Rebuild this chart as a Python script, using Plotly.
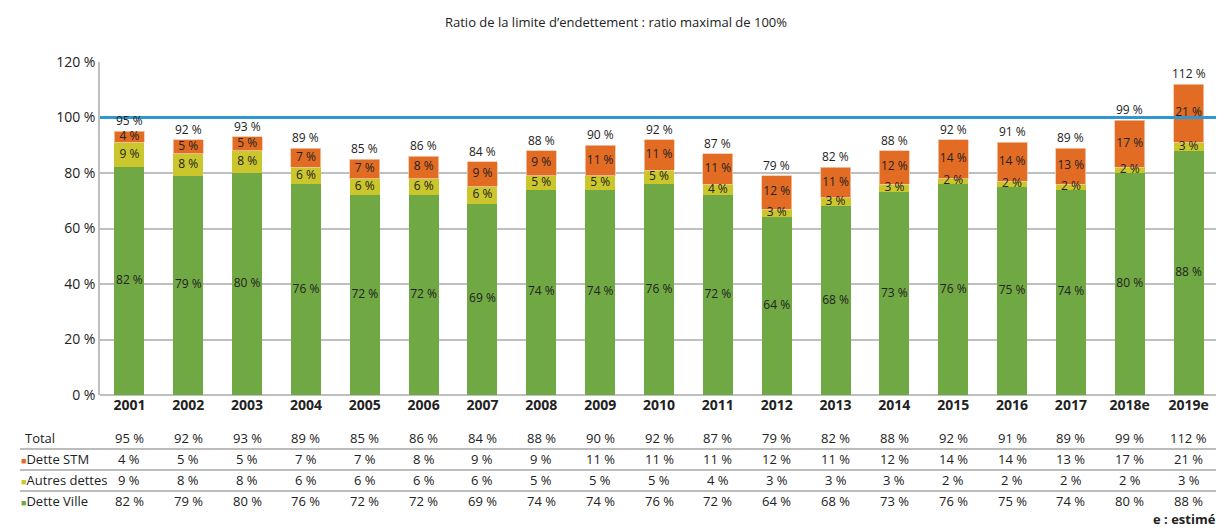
import plotly.graph_objects as go

years = ["2001", "2002", "2003", "2004", "2005", "2006", "2007", "2008", "2009", "2010",
         "2011", "2012", "2013", "2014", "2015", "2016", "2017", "2018e", "2019e"]
dette_ville = [82, 79, 80, 76, 72, 72, 69, 74, 74, 76, 72, 64, 68, 73, 76, 75, 74, 80, 88]
autres_dettes = [9, 8, 8, 6, 6, 6, 6, 5, 5, 5, 4, 3, 3, 3, 2, 2, 2, 2, 3]
dette_stm = [4, 5, 5, 7, 7, 8, 9, 9, 11, 11, 11, 12, 11, 12, 14, 14, 13, 17, 21]
total = [95, 92, 93, 89, 85, 86, 84, 88, 90, 92, 87, 79, 82, 88, 92, 91, 89, 99, 112]

C_VILLE = "#70A844"
C_AUTRES = "#CBC62B"
C_STM = "#E36C24"
C_LIMIT = "#2E97D4"
FONT = "Open Sans"
TXT = "#222222"

fig = go.Figure()
fig.add_bar(x=years, y=dette_ville, marker=dict(color=C_VILLE, line=dict(width=0)), name="Dette Ville")
fig.add_bar(x=years, y=autres_dettes, marker=dict(color=C_AUTRES, line=dict(width=0)), name="Autres dettes")
fig.add_bar(x=years, y=dette_stm, marker=dict(color=C_STM, line=dict(width=0.8, color="#F4C7A8")), name="Dette STM")

# segment labels
mid_v = [v / 2 for v in dette_ville]
mid_a = [v + a / 2 for v, a in zip(dette_ville, autres_dettes)]
mid_s = [v + a + s / 2 for v, a, s in zip(dette_ville, autres_dettes, dette_stm)]
for ys, vals in ((mid_v, dette_ville), (mid_a, autres_dettes), (mid_s, dette_stm)):
    fig.add_scatter(x=years, y=ys, mode="text", text=[f"{v} %" for v in vals],
                    textposition="middle center", textfont=dict(family=FONT, size=12, color=TXT),
                    hoverinfo="skip")

# total labels above bars
for i, t in enumerate(total):
    fig.add_annotation(xref="x", yref="y", x=i, y=t, text=f"{t} %", showarrow=False,
                       xanchor="center", yanchor="bottom", yshift=1, borderpad=0,
                       font=dict(family=FONT, size=12, color=TXT))

fig.add_shape(type="line", xref="paper", yref="y", x0=0, x1=1, y0=100, y1=100,
              line=dict(color=C_LIMIT, width=3), layer="above")

# table below
rows = [("Total", None, total, -0.129),
        ("Dette STM", C_STM, dette_stm, -0.192),
        ("Autres dettes", C_AUTRES, autres_dettes, -0.255),
        ("Dette Ville", C_VILLE, dette_ville, -0.318)]
for label, col, vals, yp in rows:
    if col:
        txt = f'<span style="color:{col};font-size:9px">■</span>{label}'
        xp = -0.0725
    else:
        txt = label
        xp = -0.069
    fig.add_annotation(xref="paper", yref="paper", x=xp, y=yp, text=txt, showarrow=False,
                       xanchor="left", yanchor="middle", font=dict(family=FONT, size=13, color=TXT))
    for i, v in enumerate(vals):
        fig.add_annotation(xref="x", yref="paper", x=i, y=yp, text=f"{v} %", showarrow=False,
                           xanchor="center", yanchor="middle", font=dict(family=FONT, size=13, color=TXT))
for yl in (-0.162, -0.225, -0.288):
    fig.add_shape(type="line", xref="paper", yref="paper", x0=-0.0716, x1=1.0, y0=yl, y1=yl,
                  line=dict(color="#A6A6A6", width=1.5))

fig.add_annotation(xref="paper", yref="paper", x=1.0, y=-0.372, text="<b>e : estimé</b>",
                   showarrow=False, xanchor="right", yanchor="middle",
                   font=dict(family=FONT, size=13, color=TXT))

fig.update_layout(
    width=1216, height=521,
    margin=dict(l=92, r=6, t=54, b=134),
    barmode="stack", bargap=0.49,
    showlegend=False,
    plot_bgcolor="white", paper_bgcolor="white",
    title=dict(text="Ratio de la limite d’endettement : ratio maximal de 100%",
               x=0.5, xanchor="center", y=0.972, yanchor="middle",
               font=dict(family=FONT, size=13, color=TXT)),
    xaxis=dict(type="category", tickmode="array", tickvals=years,
               ticktext=[f"<b>{y}</b>" for y in years],
               tickfont=dict(family=FONT, size=14, color=TXT), showgrid=False,
               showline=False, ticks="", range=[-0.5, len(years) - 0.5]),
    yaxis=dict(range=[0, 120], dtick=20, ticksuffix=" %", showgrid=True, gridcolor="#BFBFBF",
               gridwidth=1.5, zeroline=True, zerolinecolor="#BFBFBF", zerolinewidth=1.5,
               showline=True, linecolor="#BFBFBF", linewidth=1.5,
               tickfont=dict(family=FONT, size=14, color=TXT), ticks=""),
)

fig.write_html("out.html")
